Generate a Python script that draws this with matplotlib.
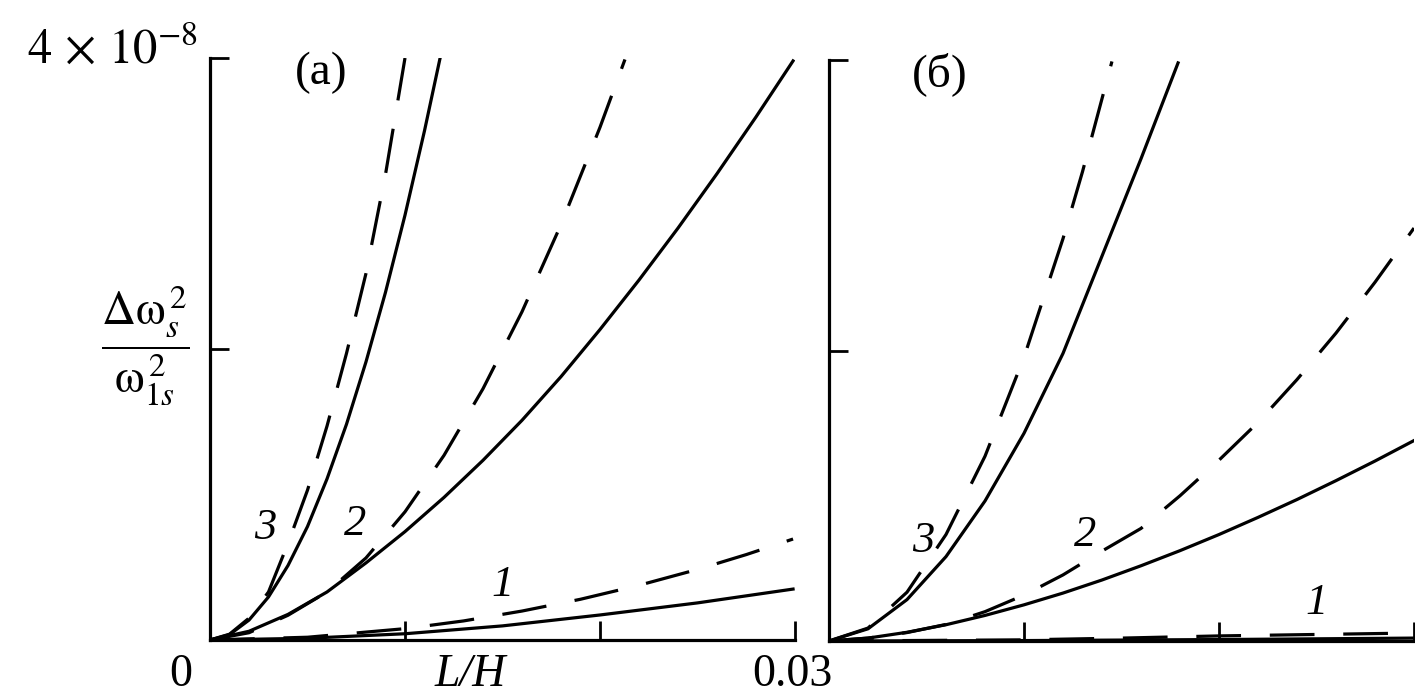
import numpy as np
import matplotlib
matplotlib.use("Agg")
import matplotlib.pyplot as plt

plt.rcParams['font.family'] = ['Liberation Serif', 'DejaVu Serif']
plt.rcParams['mathtext.fontset'] = 'stix'

# L/H values and d(omega^2)/omega^2 in units of 1e-8
# panel (a)
a3_solid_x = [0, 0.001, 0.002, 0.003, 0.004, 0.005, 0.006, 0.007, 0.008, 0.009, 0.010, 0.011, 0.0118]
a3_solid_y = [0, 0.037, 0.137, 0.296, 0.512, 0.78, 1.107, 1.483, 1.912, 2.39, 2.92, 3.50, 4.0]
a3_dash_x = [0, 0.001, 0.002, 0.003, 0.004, 0.005, 0.006, 0.007, 0.008, 0.009, 0.010]
a3_dash_y = [0, 0.04, 0.15, 0.33, 0.664, 1.03, 1.47, 1.97, 2.52, 3.20, 4.0]

a2_solid_x = [0, 0.002, 0.004, 0.006, 0.008, 0.010, 0.012, 0.014, 0.016, 0.018, 0.020,
              0.022, 0.024, 0.026, 0.028, 0.0299]
a2_solid_y = [0, 0.060, 0.176, 0.330, 0.530, 0.745, 0.980, 1.235, 1.51, 1.81, 2.134,
              2.474, 2.831, 3.205, 3.595, 3.98]
a2_dash_x = [0, 0.002, 0.004, 0.006, 0.008, 0.010, 0.012, 0.014, 0.016, 0.018, 0.020, 0.02128]
a2_dash_y = [0, 0.05, 0.17, 0.33, 0.564, 0.881, 1.269, 1.727, 2.256, 2.855, 3.524, 3.99]

a1_solid_x = [0, 0.005, 0.010, 0.015, 0.020, 0.025, 0.0299]
a1_solid_y = [0, 0.012, 0.043, 0.097, 0.172, 0.255, 0.35]
a1_dash_x = [0, 0.005, 0.010, 0.013, 0.016, 0.019, 0.022, 0.025, 0.0275, 0.0299]
a1_dash_y = [0, 0.019, 0.078, 0.131, 0.199, 0.280, 0.376, 0.485, 0.587, 0.694]

# panel (б)
b3_solid_x = [0, 0.002, 0.004, 0.006, 0.008, 0.010, 0.012, 0.014, 0.016, 0.0179]
b3_solid_y = [0, 0.084, 0.285, 0.581, 0.964, 1.43, 1.98, 2.65, 3.32, 3.98]
b3_dash_x = [0, 0.002, 0.004, 0.006, 0.008, 0.010, 0.012, 0.013, 0.01451]
b3_dash_y = [0, 0.089, 0.336, 0.733, 1.272, 1.953, 2.770, 3.231, 3.99]

b2_solid_x = [0, 0.002, 0.004, 0.006, 0.008, 0.010, 0.012, 0.014, 0.016, 0.018, 0.020,
              0.022, 0.024, 0.026, 0.028, 0.030]
b2_solid_y = [0, 0.020, 0.060, 0.112, 0.176, 0.249, 0.330, 0.420, 0.518, 0.622, 0.733,
              0.851, 0.974, 1.104, 1.239, 1.38]
b2_dash_x = [0, 0.002, 0.004, 0.006, 0.008, 0.010, 0.012, 0.014, 0.016, 0.018, 0.020,
             0.022, 0.024, 0.026, 0.028, 0.030]
b2_dash_y = [0, 0.02, 0.058, 0.114, 0.202, 0.316, 0.455, 0.619, 0.775, 1.0, 1.245,
             1.505, 1.80, 2.12, 2.47, 2.843]

b1_solid_x = [0, 0.01, 0.02, 0.03]
b1_solid_y = [0, 0.003, 0.01, 0.02]
b1_dash_x = [0, 0.01, 0.015, 0.02, 0.025, 0.03]
b1_dash_y = [0, 0.008, 0.02, 0.035, 0.045, 0.055]

curve_labels_a = [('3', 0.00282, 0.77), ('2', 0.00744, 0.80), ('1', 0.0150, 0.38)]
curve_labels_b = [('3', 0.00482, 0.69), ('2', 0.01313, 0.73), ('1', 0.0250, 0.26)]

W, H = 1415, 697
fig = plt.figure(figsize=(W / 100, H / 100), dpi=100)
fig.patch.set_facecolor('white')

ax1 = fig.add_axes([210 / W, 1 - 640 / H, (795 - 210) / W, (640 - 58) / H])
ax2 = fig.add_axes([829 / W, 1 - 641 / H, (1414 - 829) / W, (641 - 60) / H])

lw = 2.3
dash = (0, (14, 9))


def draw_panel(ax, solids, dashes, labels, tag):
    for x, y in solids:
        ax.plot(x, y, color='black', lw=lw, solid_joinstyle='round')
    for x, y in dashes:
        ax.plot(x, y, color='black', lw=lw, linestyle=dash, dash_capstyle='butt')
    for txt, x, y in labels:
        ax.text(x, y, txt, fontsize=32, style='italic', ha='center', va='center')
    ax.text(0.19, 0.975, tag, transform=ax.transAxes, fontsize=34,
            ha='center', va='center')
    ax.set_xlim(0, 0.03)
    ax.set_ylim(0, 4)
    ax.spines['top'].set_visible(False)
    ax.spines['right'].set_visible(False)
    for s in ('left', 'bottom'):
        ax.spines[s].set_linewidth(2.3)
    ax.set_xticks([0.01, 0.02, 0.03])
    ax.set_yticks([2, 4])
    ax.set_xticklabels([])
    ax.set_yticklabels([])
    ax.tick_params(direction='in', length=14, width=2)
    ax.patch.set_alpha(0)


draw_panel(ax1,
           [(a3_solid_x, a3_solid_y), (a2_solid_x, a2_solid_y), (a1_solid_x, a1_solid_y)],
           [(a3_dash_x, a3_dash_y), (a2_dash_x, a2_dash_y), (a1_dash_x, a1_dash_y)],
           curve_labels_a, '(a)')
draw_panel(ax2,
           [(b3_solid_x, b3_solid_y), (b2_solid_x, b2_solid_y), (b1_solid_x, b1_solid_y)],
           [(b3_dash_x, b3_dash_y), (b2_dash_x, b2_dash_y), (b1_dash_x, b1_dash_y)],
           curve_labels_b, '(б)')

# axis texts
fig.text(198 / W, 1 - 50 / H, r'$4\,\times\,10^{-8}$', fontsize=35, ha='right', va='center')
fig.text(145 / W, 1 - 345 / H, r'$\dfrac{\Delta\mathrm{\omega}_s^{\,2}}{\mathrm{\omega}_{1s}^{\,2}}$',
         fontsize=34, ha='center', va='center')
fig.text(181 / W, 1 - 675 / H, '0', fontsize=33, ha='center', va='center')
fig.text(470 / W, 1 - 675 / H, 'L/H', fontsize=33, style='italic', ha='center', va='center')
fig.text(792 / W, 1 - 675 / H, '0.03', fontsize=33, ha='center', va='center')

fig.savefig('out.png', dpi=100, facecolor='white')
